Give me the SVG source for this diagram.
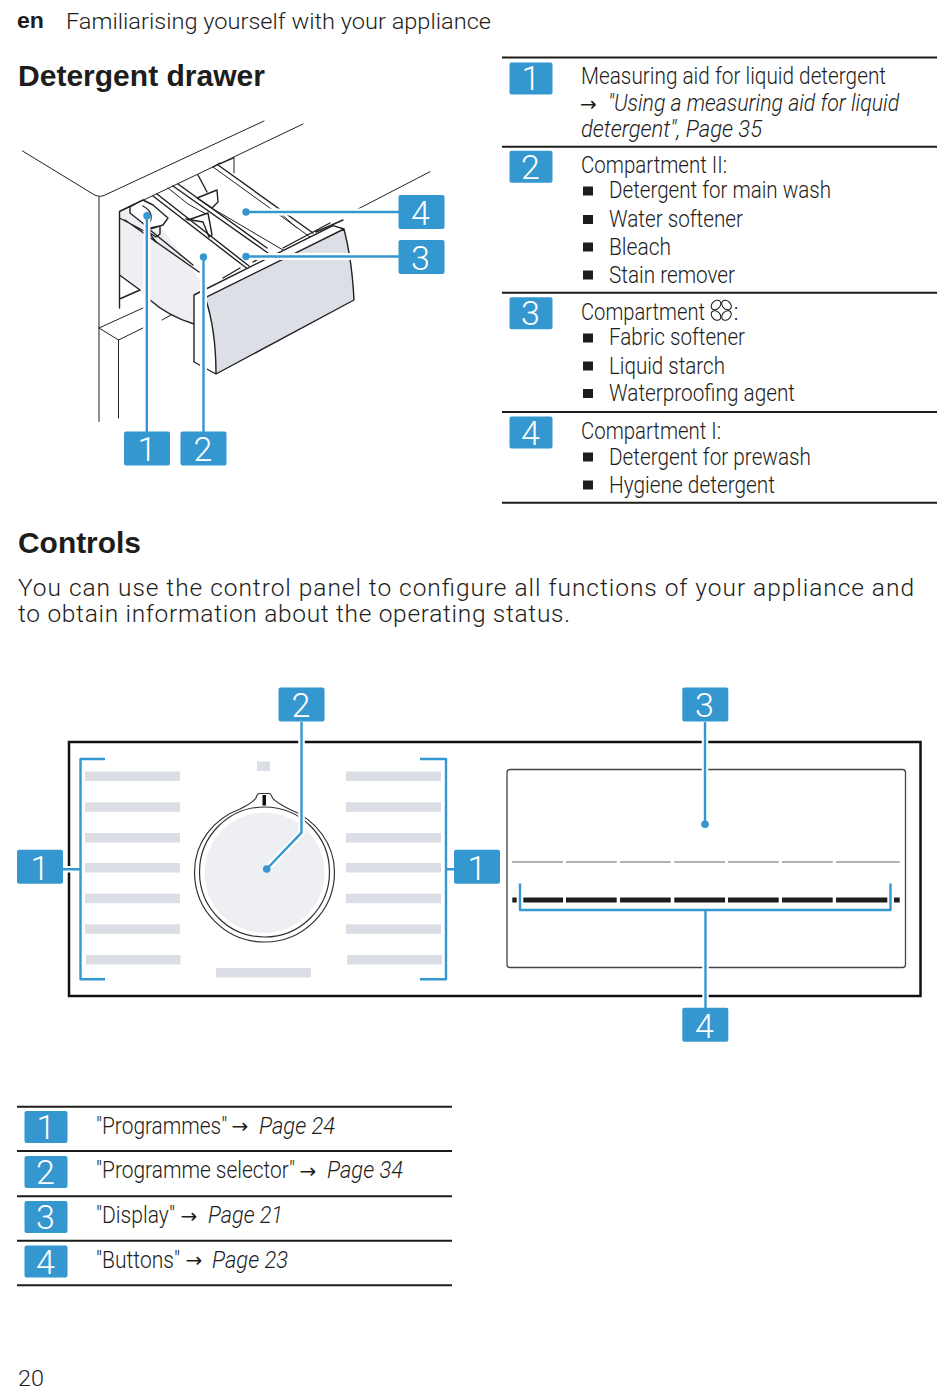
<svg xmlns="http://www.w3.org/2000/svg" width="950" height="1392" viewBox="0 0 950 1392">
<style>
text{font-family:Roboto,"Liberation Sans",sans-serif;fill:#1d1d1b}
.t{font-size:24.5px;font-weight:300}
.i{font-size:24.5px;font-weight:300;font-style:italic}
.a{font-size:20px;font-family:"DejaVu Sans",sans-serif}
.h{font-size:30px;font-weight:700;font-family:"Liberation Sans",sans-serif}
.p{font-size:24.5px;font-weight:300}
.n{font-size:34px;font-weight:300;fill:#fff;text-anchor:middle}
.b{fill:#3597cf}
.r{stroke:#1d1d1b;stroke-width:2;fill:none}
.c{stroke:#3597cf;stroke-width:2.4;fill:none;stroke-linejoin:round}
.w{stroke:#fff;stroke-width:7;fill:none}
.d{fill:#3597cf}
.g{fill:#dcdee5}
.l{stroke:#222;stroke-width:1;fill:none;stroke-linecap:round;stroke-linejoin:round}
.m{stroke:#222;stroke-width:1.400;fill:none;stroke-linecap:round;stroke-linejoin:round}
.k{fill:#1d1d1b}
</style>
<defs><rect id="bd" class="b" width="46" height="34" rx="2"/><rect id="bs" class="b" width="43" height="32" rx="2"/></defs>
<rect width="950" height="1392" fill="#fff"/>

<g id="header">
<text x="17" y="28" font-size="22" font-weight="700" style="font-family:'Liberation Sans',sans-serif" textLength="27" lengthAdjust="spacingAndGlyphs">en</text>
<text x="66" y="28.500" class="p" style="font-size:22.500px" textLength="425" lengthAdjust="spacingAndGlyphs">Familiarising yourself with your appliance</text>
<text x="18" y="85.500" class="h" textLength="247" lengthAdjust="spacingAndGlyphs">Detergent drawer</text>
</g>

<g id="drawer-illustration">
<path class="l" d="M22.500 151L93 194Q99 198 105 195L264 121M119.500 211.500L303 124M99 197V421.500M118.500 340V418M358 209L430 171.700M99 328L143 308M99 328L118.500 340L143 328M162 320L171 315M234 158V173M220 164L234 158"/>
<path d="M119.500 212L145 205L200 280V295L194 296V324Q170 316 150 300L120 275Z" fill="#eeeff3"/>
<path class="m" d="M119.500 212V308M119.500 275L140 290M119.500 299L140 290M150 300Q168 316 194 324M119.500 218L150 234M150 230L193 265M125 220L199 272"/>
<path class="m" d="M153 196L246.700 268.300M157 194L249 266M173 186L268 253M178 184L267 248M218 165L313 233"/>
<path class="l" d="M213 167L310 237M210 207L283 250M280 213L297 228M168 188L188 204L206 214"/>
<path class="m" d="M198 175L207 192M197 198L217 190L218 202L212 208M197 198L212 208M188 220L208 213L212 235L209 237L203 222L186 219M240 268L223 278M253 262L264 256M283 248L330 223M316 232L343 220M213 167L220 163"/>
<path d="M130 207L143 200L153 205L168 218L163 225L150 229L130 213Z" fill="#fff"/>
<path class="m" d="M119.500 211.500L143 200L153 205L168 218L163 225L150 229L130 213L130 207L143 200M143 206Q154 212 150 222M150 228L160 226V234L156 237L150 233M150 234V230M150 234L156 242"/>
<path d="M194 295L333 225.700L344 229Q352 260 354 300L216 374L194 362Z" fill="#fff"/>
<path d="M205.300 297.700L344 229Q352 260 354 300L216 374Q216 330 205.300 297.700Z" fill="#dcdfe5"/>
<path class="m" d="M194 362V295L200 292L333 225.700L344 229Q352 260 354 300L216 374L194 362M200 292L205.300 297.700L344 229M205.300 297.700Q216 330 216 374"/>
</g>

<g id="connectors">
<path class="w" d="M246 212H399M246 256.500H399M147 216V432M203.500 257V432"/>
<path class="c" d="M246 212H399M246 256.500H399M146.800 216V432M203.500 257V432"/>
<circle class="d" cx="246" cy="212" r="3.700"/><circle class="d" cx="246" cy="256.500" r="3.700"/><circle class="d" cx="147" cy="215.700" r="3.700"/><circle class="d" cx="203.500" cy="257" r="3.700"/>
</g>

<g id="drawer-badge-4"><use href="#bd" x="398.500" y="195"/><text class="n" x="420.500" y="224.500">4</text></g>
<g id="drawer-badge-3"><use href="#bd" x="398.500" y="240"/><text class="n" x="420.500" y="269.500">3</text></g>
<g id="drawer-badge-1"><use href="#bd" x="124" y="431.500"/><text class="n" x="147" y="461">1</text></g>
<g id="drawer-badge-2"><use href="#bd" x="180.500" y="431.500"/><text class="n" x="203" y="461">2</text></g>

<g id="drawer-table">
<path class="r" d="M502 57.500H937M502 146.800H937M502 292.800H937M502 412H937M502 502.800H937"/>
<use href="#bs" x="509.500" y="62.500"/><text class="n" x="531" y="90">1</text>
<use href="#bs" x="509.500" y="150.700"/><text class="n" x="530.500" y="178.500">2</text>
<use href="#bs" x="509.500" y="297.300"/><text class="n" x="530.500" y="325">3</text>
<use href="#bs" x="509.500" y="416.500"/><text class="n" x="530.500" y="444.500">4</text>
<text class="t" x="581" y="84" textLength="305" lengthAdjust="spacingAndGlyphs">Measuring aid for liquid detergent</text>
<text class="a" x="580" y="111">→</text>
<text class="i" transform="translate(608 111) scale(.8 1)" textLength="364" lengthAdjust="spacingAndGlyphs">"Using a measuring aid for liquid</text>
<text class="i" x="581" y="137" textLength="181" lengthAdjust="spacingAndGlyphs">detergent", Page 35</text>
<text class="t" x="581" y="173" textLength="146" lengthAdjust="spacingAndGlyphs">Compartment II:</text>
<text class="t" x="609" y="198" textLength="222" lengthAdjust="spacingAndGlyphs">Detergent for main wash</text>
<text class="t" x="609" y="227" textLength="134" lengthAdjust="spacingAndGlyphs">Water softener</text>
<text class="t" x="609" y="254.500" textLength="62" lengthAdjust="spacingAndGlyphs">Bleach</text>
<text class="t" x="609" y="283" textLength="126" lengthAdjust="spacingAndGlyphs">Stain remover</text>
<text class="t" x="581" y="319.500" textLength="124" lengthAdjust="spacingAndGlyphs">Compartment</text>
<g fill="none" stroke="#1d1d1b" stroke-width="1.100">
<ellipse cx="716" cy="305" rx="5.500" ry="4" transform="rotate(-45 716 305)"/>
<ellipse cx="726.500" cy="305" rx="5.500" ry="4" transform="rotate(45 726.500 305)"/>
<ellipse cx="716" cy="315.500" rx="5.500" ry="4" transform="rotate(45 716 315.500)"/>
<ellipse cx="726.500" cy="315.500" rx="5.500" ry="4" transform="rotate(-45 726.500 315.500)"/>
</g>
<text class="t" x="733.500" y="319.500">:</text>
<text class="t" x="609" y="345" textLength="136" lengthAdjust="spacingAndGlyphs">Fabric softener</text>
<text class="t" x="609" y="373.500" textLength="116" lengthAdjust="spacingAndGlyphs">Liquid starch</text>
<text class="t" x="609" y="401" textLength="186" lengthAdjust="spacingAndGlyphs">Waterproofing agent</text>
<text class="t" x="581" y="438.500" textLength="140" lengthAdjust="spacingAndGlyphs">Compartment I:</text>
<text class="t" x="609" y="465" textLength="202" lengthAdjust="spacingAndGlyphs">Detergent for prewash</text>
<text class="t" x="609" y="493" textLength="166" lengthAdjust="spacingAndGlyphs">Hygiene detergent</text>
<g class="k">
<rect x="583" y="186.500" width="10" height="9"/><rect x="583" y="215" width="10" height="9"/><rect x="583" y="242.500" width="10" height="9"/><rect x="583" y="270.500" width="10" height="9"/>
<rect x="583" y="333.500" width="10" height="9"/><rect x="583" y="361.500" width="10" height="9"/><rect x="583" y="389" width="10" height="9"/>
<rect x="583" y="452.500" width="10" height="9"/><rect x="583" y="480.500" width="10" height="9"/>
</g>
</g>

<g id="controls-text">
<text x="18" y="553" class="h" textLength="123" lengthAdjust="spacingAndGlyphs">Controls</text>
<text x="18" y="596" class="p" textLength="896" lengthAdjust="spacing">You can use the control panel to configure all functions of your appliance and</text>
<text x="18" y="622" class="p" textLength="552" lengthAdjust="spacing">to obtain information about the operating status.</text>
</g>

<g id="panel">
<rect x="69" y="742" width="851.500" height="254" fill="#fff" stroke="#111" stroke-width="2.500"/>
<g class="g">
<rect x="85" y="771.500" width="95" height="9.500"/><rect x="85" y="802.300" width="95" height="9.500"/><rect x="85" y="833" width="95" height="9.500"/><rect x="85" y="863" width="95" height="9.500"/><rect x="85" y="893.700" width="95" height="9.500"/><rect x="85" y="924.300" width="95" height="9.500"/><rect x="86" y="955" width="94.500" height="9.500"/>
<rect x="346" y="771.500" width="95" height="9.500"/><rect x="346" y="802.300" width="95" height="9.500"/><rect x="346" y="833" width="95" height="9.500"/><rect x="346" y="863" width="95" height="9.500"/><rect x="346" y="893.700" width="95" height="9.500"/><rect x="346" y="924.300" width="95" height="9.500"/><rect x="347" y="955" width="95" height="9.500"/>
<rect x="257" y="761.500" width="13" height="9.500"/><rect x="216" y="968" width="95" height="9.500"/>
</g>
<g id="knob">
<circle cx="264.500" cy="872.700" r="60" fill="#eeeff3"/>
<circle cx="264.500" cy="872" r="65" fill="none" stroke="#333" stroke-width="1.200"/>
<path d="M240 809C250 804 254 801 256 798Q257 793.500 260 793.500H269Q271 793.500 272.500 798C275 802 282 805 289 809C317 820 334.500 845 334.500 872C334.500 911 303 942 264.500 942C226 942 194.500 911 194.500 872C194.500 843 213 819 240 809Z" fill="none" stroke="#333" stroke-width="1.200"/>
<rect x="262.500" y="795" width="3.500" height="10.500" fill="#111"/>
</g>
<g id="display">
<rect x="507" y="769.500" width="398.500" height="198" rx="3" fill="none" stroke="#444" stroke-width="1.300"/>
<path d="M512 862H563M566 862H616.700M620 862H670.700M674.300 862H725M728 862H778.700M782 862H832.700M836 862H899.700" stroke="#666" stroke-width="1.100" fill="none"/>
<path d="M512.300 900H516.700M523.300 900H563M566 900H616.700M620 900H670.700M674.300 900H725M728 900H778.700M782 900H832.700M836 900H887.300M894 900H899.700" stroke="#1d1d1b" stroke-width="5" fill="none"/>
</g>
</g>

<g id="panel-connectors">
<path class="w" d="M301.500 722V832.700L266.700 869M705 722V824M705.500 910V1008M17 869.300H80M446 869.300H454" style="stroke-width:6.500"/>
<path class="c" d="M301.500 722V832.700L266.700 869M705 722V824M63 869.300H80.500M446 869.300H454M705.500 910V1008"/>
<path class="c" d="M105 759H80.500V979.300H105M420 759H446V979.300H420M520 883.500V910H890.500V883.500"/>
<circle class="d" cx="266.700" cy="869" r="3.800"/><circle class="d" cx="705" cy="824.300" r="3.800"/>
</g>

<g id="panel-badge-2"><use href="#bd" x="278.500" y="687.500"/><text class="n" x="301" y="717">2</text></g>
<g id="panel-badge-3"><use href="#bd" x="682.300" y="687.500"/><text class="n" x="704.500" y="717">3</text></g>
<g id="panel-badge-1-left"><use href="#bd" x="17" y="849.700"/><text class="n" x="40" y="879.500">1</text></g>
<g id="panel-badge-1-right"><use href="#bd" x="454" y="849.700"/><text class="n" x="477" y="879.500">1</text></g>
<g id="panel-badge-4"><use href="#bd" x="682.300" y="1007.700"/><text class="n" x="704.500" y="1037.500">4</text></g>

<g id="controls-table">
<path class="r" d="M17 1106.800H452M17 1151H452M17 1196.300H452M17 1240.700H452M17 1285.300H452"/>
<use href="#bs" x="24.500" y="1111"/><text class="n" x="46" y="1139">1</text>
<use href="#bs" x="24.500" y="1156"/><text class="n" x="45.500" y="1184">2</text>
<use href="#bs" x="24.500" y="1201"/><text class="n" x="45.500" y="1229">3</text>
<use href="#bs" x="24.500" y="1245.500"/><text class="n" x="45.500" y="1273.500">4</text>
<text class="t" transform="translate(96 1133.500) scale(.82 1)" textLength="160" lengthAdjust="spacingAndGlyphs">"Programmes"</text>
<text class="a" x="231.500" y="1133">→</text>
<text class="i" transform="translate(259 1133.500) scale(.857 1)" textLength="88.700" lengthAdjust="spacingAndGlyphs">Page 24</text>
<text class="t" transform="translate(96 1178) scale(.834 1)" textLength="238.600" lengthAdjust="spacingAndGlyphs">"Programme selector"</text>
<text class="a" x="299.500" y="1177.500">→</text>
<text class="i" transform="translate(327 1178) scale(.857 1)" textLength="88.700" lengthAdjust="spacingAndGlyphs">Page 34</text>
<text class="t" transform="translate(96 1223) scale(.83 1)" textLength="95.200" lengthAdjust="spacingAndGlyphs">"Display"</text>
<text class="a" x="180.500" y="1222.500">→</text>
<text class="i" transform="translate(208 1223) scale(.857 1)" textLength="87.500" lengthAdjust="spacingAndGlyphs">Page 21</text>
<text class="t" transform="translate(96 1267.500) scale(.89 1)" textLength="94.400" lengthAdjust="spacingAndGlyphs">"Buttons"</text>
<text class="a" x="185.500" y="1267">→</text>
<text class="i" transform="translate(212 1267.500) scale(.857 1)" textLength="88.700" lengthAdjust="spacingAndGlyphs">Page 23</text>
</g>
<text id="page-number" x="18" y="1385.500" class="p" style="font-size:22.500px" textLength="26" lengthAdjust="spacingAndGlyphs">20</text>
</svg>
